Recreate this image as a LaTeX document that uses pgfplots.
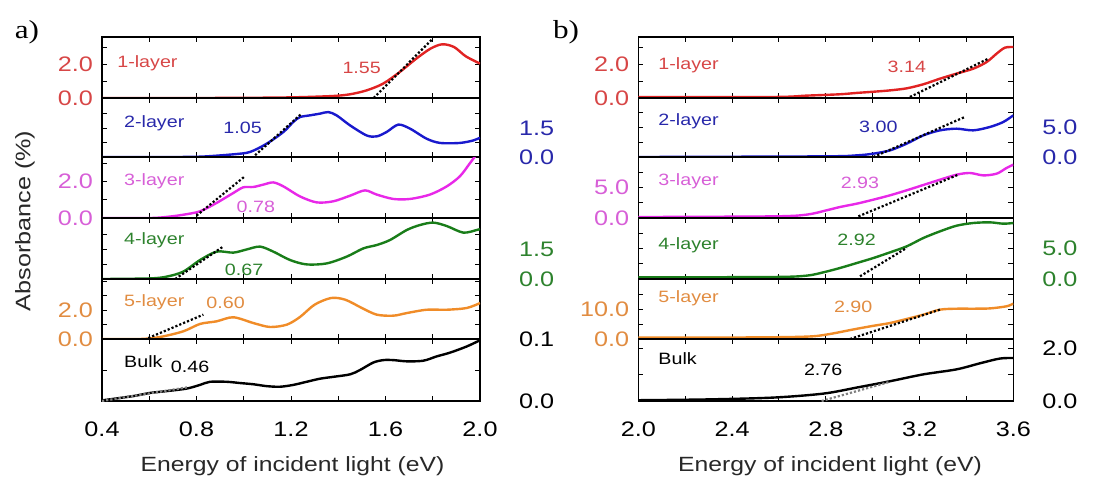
\documentclass[border=0pt]{standalone}
\usepackage{pgfplots}
\pgfplotsset{compat=1.18}
\usepackage{fontspec}
\setmainfont{Liberation Sans}[FakeStretch=1.2]
\newfontfamily\serifpanel{Liberation Serif}[FakeStretch=1.2]
\definecolor{cred}{RGB}{225,35,35}
\definecolor{lred}{RGB}{215,70,70}
\definecolor{cblue}{RGB}{25,25,205}
\definecolor{lblue}{RGB}{40,40,170}
\definecolor{cmag}{RGB}{232,40,232}
\definecolor{lmag}{RGB}{215,95,215}
\definecolor{cgreen}{RGB}{25,125,25}
\definecolor{lgreen}{RGB}{45,130,45}
\definecolor{corange}{RGB}{240,140,40}
\definecolor{lorange}{RGB}{225,140,65}
\definecolor{ctext}{RGB}{40,40,40}
\tikzset{
  lay/.style={font=\fontsize{8.2}{9}\selectfont, anchor=west, text=#1},
  val/.style={font=\fontsize{8.2}{9}\selectfont, text=#1},
  curve/.style={#1, line width=1.2pt, smooth, tension=0.5},
  tang/.style={black, densely dotted, line width=1.1pt},
}
\pgfplotsset{
  sub/.style={scale only axis, anchor=north west, ymin=0,
    xticklabels={}, axis line style={line width=0.6pt},
    major tick length=2.5pt, minor tick length=2.5pt,
    every tick/.style={black, line width=0.5pt},
    tick label style={font=\fontsize{10.5}{11}\selectfont},
    /pgf/number format/assume math mode=true,
    yticklabel shift={1pt}},
  pa/.style={sub, width=189pt, xmin=0.4, xmax=2.0,
    xtick={0.4,0.8,1.2,1.6,2.0}, minor xtick={0.6,1.0,1.4,1.8}},
  pb/.style={sub, width=187.5pt, xmin=2.0, xmax=3.6,
    xtick={2.0,2.4,2.8,3.2,3.6}, minor xtick={2.2,2.6,3.0,3.4}},
  rightlab/.style={yticklabel pos=right, yticklabel shift={#1}},
}
\begin{document}
\begin{tikzpicture}
\path[use as bounding box] (0,0) rectangle (547pt,-239.5pt);
% ---------------- panel a ----------------
\begin{axis}[pa, at={(51pt,-18.5pt)}, height=30.5pt, ymax=3.6,
  ytick={0,2}, minor ytick={1,3}, yticklabels={0.0,2.0}, yticklabel style={text=lred}]
\addplot[curve=cred] coordinates {(0.40,0) (0.80,0.0) (1.10,0.02) (1.24,0.05) (1.38,0.12) (1.45,0.22) (1.52,0.45) (1.59,0.85) (1.66,1.53) (1.73,2.32) (1.79,2.91) (1.84,3.17) (1.89,3.01) (1.94,2.46) (2.0,2.03)};
\addplot[tang] coordinates {(1.55,0.0) (1.80,3.5)};
\node[lay=lred] at (rel axis cs:0.022,0.57) {1-layer};
\node[val=lred] at (rel axis cs:0.687,0.49) {1.55};
\end{axis}
\begin{axis}[pa, at={(51pt,-49pt)}, height=29.5pt, ymax=3.06,
  ytick={0,1.5}, minor ytick={0.75,2.25}, yticklabels={0.0,1.5}, rightlab=16pt, yticklabel style={text=lblue}]
\addplot[curve=cblue] coordinates {(0.40,0) (0.67,0.0) (0.82,0.02) (0.956,0.14) (1.026,0.26) (1.097,0.69) (1.168,1.30) (1.21,1.82) (1.238,2.07) (1.28,2.16) (1.323,2.25) (1.358,2.33) (1.393,2.16) (1.45,1.64) (1.52,1.12) (1.563,1.07) (1.605,1.30) (1.654,1.68) (1.704,1.47) (1.774,0.95) (1.831,0.73) (1.915,0.73) (1.972,0.86) (2.0,1.0)};
\addplot[tang] coordinates {(1.048,0.09) (1.245,2.25)};
\node[lay=lblue] at (rel axis cs:0.04,0.58) {2-layer};
\node[val=lblue] at (rel axis cs:0.372,0.49) {1.05};
\end{axis}
\begin{axis}[pa, at={(51pt,-78.5pt)}, height=30.5pt, ymax=3.36,
  ytick={0,2}, minor ytick={1,3}, yticklabels={0.0,2.0}, yticklabel style={text=lmag}]
\addplot[curve=cmag] coordinates {(0.40,0) (0.603,0) (0.674,0.06) (0.744,0.18) (0.815,0.37) (0.885,0.83) (0.956,1.38) (0.998,1.69) (1.041,1.71) (1.083,1.84) (1.125,1.96) (1.168,1.74) (1.238,1.19) (1.309,0.86) (1.379,0.92) (1.45,1.23) (1.513,1.52) (1.563,1.29) (1.633,1.05) (1.704,1.05) (1.788,1.29) (1.859,1.74) (1.915,2.30) (1.958,3.03) (1.985,3.5)};
\addplot[tang] coordinates {(0.80,0.13) (1.005,2.30)};
\node[lay=lmag] at (rel axis cs:0.04,0.595) {3-layer};
\node[val=lmag] at (rel axis cs:0.407,0.19) {0.78};
\end{axis}
\begin{axis}[pa, at={(51pt,-109pt)}, height=30.5pt, ymax=3.05,
  ytick={0,1.5}, minor ytick={0.75,2.25}, yticklabels={0.0,1.5}, rightlab=16pt, yticklabel style={text=lgreen}]
\addplot[curve=cgreen] coordinates {(0.40,0) (0.603,0.03) (0.674,0.12) (0.744,0.37) (0.815,0.95) (0.886,1.37) (0.956,1.32) (1.013,1.48) (1.069,1.62) (1.125,1.37) (1.196,0.95) (1.266,0.73) (1.351,0.78) (1.436,1.12) (1.506,1.53) (1.563,1.70) (1.619,1.95) (1.69,2.45) (1.746,2.70) (1.802,2.82) (1.859,2.65) (1.929,2.32) (1.986,2.45) (2.0,2.5)};
\addplot[tang] coordinates {(0.71,0.0) (0.91,1.6)};
\node[lay=lgreen] at (rel axis cs:0.04,0.64) {4-layer};
\node[val=lgreen] at (rel axis cs:0.376,0.15) {0.67};
\end{axis}
\begin{axis}[pa, at={(51pt,-139.5pt)}, height=30pt, ymax=4.14,
  ytick={0,2}, minor ytick={1,3,4}, yticklabels={0.0,2.0}, yticklabel style={text=lorange}]
\addplot[curve=corange] coordinates {(0.40,0) (0.561,0) (0.646,0.14) (0.744,0.53) (0.815,1.04) (0.885,1.22) (0.956,1.50) (1.041,1.10) (1.111,0.83) (1.182,0.99) (1.238,1.52) (1.30,2.37) (1.37,2.83) (1.43,2.71) (1.50,2.14) (1.563,1.68) (1.633,1.61) (1.69,1.79) (1.774,2.02) (1.859,2.02) (1.944,2.14) (2.0,2.48)};
\addplot[tang] coordinates {(0.596,0.07) (0.829,1.68)};
\node[lay=lorange] at (rel axis cs:0.04,0.605) {5-layer};
\node[val=lorange] at (rel axis cs:0.327,0.605) {0.60};
\end{axis}
\begin{axis}[pa, at={(51pt,-169.5pt)}, height=31pt, ymax=0.1,
  ytick={0,0.1}, minor ytick={0.05}, yticklabels={0.0,0.1}, rightlab=16pt, yticklabel style={text=black},
  xticklabels={0.4,0.8,1.2,1.6,2.0}, xticklabel shift={7pt}]
\addplot[curve=black] coordinates {(0.40,0.001) (0.533,0.008) (0.603,0.013) (0.674,0.016) (0.758,0.020) (0.815,0.026) (0.857,0.031) (0.928,0.031) (0.984,0.029) (1.041,0.027) (1.097,0.024) (1.153,0.023) (1.21,0.026) (1.266,0.031) (1.323,0.036) (1.379,0.039) (1.45,0.043) (1.492,0.050) (1.548,0.062) (1.591,0.066) (1.633,0.066) (1.69,0.064) (1.76,0.065) (1.817,0.072) (1.873,0.078) (1.944,0.088) (2.0,0.098)};
\addplot[gray, densely dotted, line width=1.1pt] coordinates {(0.40,0.0) (0.76,0.022)};
\node[lay=black] at (rel axis cs:0.04,0.63) {Bulk};
\node[val=black] at (rel axis cs:0.233,0.55) {0.46};
\end{axis}
% ---------------- panel b ----------------
\begin{axis}[pb, at={(319.15pt,-18.5pt)}, height=30.5pt, ymax=3.6,
  ytick={0,2}, minor ytick={1,3}, yticklabels={0.0,2.0}, yticklabel style={text=lred}]
\addplot[curve=cred] coordinates {(2.0,0.06) (2.576,0.06) (2.718,0.14) (2.86,0.22) (2.932,0.30) (3.003,0.37) (3.074,0.45) (3.145,0.57) (3.216,0.81) (3.287,1.14) (3.358,1.44) (3.429,1.73) (3.486,2.12) (3.529,2.62) (3.564,2.97) (3.6,3.01)};
\addplot[tang] coordinates {(3.159,0.06) (3.493,2.32)};
\node[lay=lred] at (rel axis cs:0.035,0.54) {1-layer};
\node[val=lred] at (rel axis cs:0.716,0.51) {3.14};
\end{axis}
\begin{axis}[pb, at={(319.15pt,-49pt)}, height=29.5pt, ymax=10,
  ytick={0,5}, minor ytick={2.5,7.5}, yticklabels={0.0,5.0}, rightlab=11pt, yticklabel style={text=lblue}]
\addplot[curve=cblue] coordinates {(2.0,0) (2.789,0.11) (2.932,0.28) (3.003,0.57) (3.074,1.13) (3.145,2.26) (3.216,3.67) (3.287,4.52) (3.358,4.80) (3.429,4.52) (3.5,5.09) (3.557,5.93) (3.6,7.06)};
\addplot[tang] coordinates {(3.003,0.0) (3.394,6.8)};
\node[lay=lblue] at (rel axis cs:0.035,0.6) {2-layer};
\node[val=lblue] at (rel axis cs:0.64,0.51) {3.00};
\end{axis}
\begin{axis}[pb, at={(319.15pt,-78.5pt)}, height=30.5pt, ymax=10,
  ytick={0,5}, minor ytick={2.5,7.5}, yticklabels={0.0,5.0}, yticklabel style={text=lmag}]
\addplot[curve=cmag] coordinates {(2.0,0.16) (2.576,0.27) (2.718,0.55) (2.803,1.26) (2.86,1.80) (2.932,2.35) (3.003,3.01) (3.074,3.72) (3.145,4.54) (3.216,5.41) (3.287,6.28) (3.358,7.10) (3.415,7.38) (3.472,6.99) (3.529,7.27) (3.571,8.20) (3.6,8.74)};
\addplot[tang] coordinates {(2.939,0.27) (3.365,7.1)};
\node[lay=lmag] at (rel axis cs:0.035,0.595) {3-layer};
\node[val=lmag] at (rel axis cs:0.591,0.57) {2.93};
\end{axis}
\begin{axis}[pb, at={(319.15pt,-109pt)}, height=30.5pt, ymax=10,
  ytick={0,5}, minor ytick={2.5,7.5}, yticklabels={0.0,5.0}, rightlab=11pt, yticklabel style={text=lgreen}]
\addplot[curve=cgreen] coordinates {(2.0,0.27) (2.576,0.33) (2.718,0.55) (2.789,1.09) (2.86,1.80) (2.932,2.62) (3.003,3.44) (3.074,4.37) (3.145,5.35) (3.216,6.72) (3.287,7.81) (3.358,8.74) (3.429,9.18) (3.5,9.29) (3.557,9.07) (3.6,9.18)};
\addplot[tang] coordinates {(2.946,0.44) (3.145,5.1)};
\node[lay=lgreen] at (rel axis cs:0.035,0.55) {4-layer};
\node[val=lgreen] at (rel axis cs:0.582,0.64) {2.92};
\end{axis}
\begin{axis}[pb, at={(319.15pt,-139.5pt)}, height=30pt, ymax=20,
  ytick={0,10}, minor ytick={5,15}, yticklabels={0.0,10.0}, yticklabel style={text=lorange}]
\addplot[curve=corange] coordinates {(2.0,0.44) (2.4,0.5) (2.6,0.6) (2.7,0.75) (2.76,1.0) (2.82,1.7) (2.86,2.3) (2.932,3.4) (3.003,4.4) (3.074,5.33) (3.145,6.67) (3.216,8.11) (3.287,9.78) (3.358,10.1) (3.429,10.1) (3.5,10.2) (3.571,10.9) (3.6,11.8)};
\addplot[tang] coordinates {(2.903,0.0) (3.287,9.8)};
\node[lay=lorange] at (rel axis cs:0.035,0.68) {5-layer};
\node[val=lorange] at (rel axis cs:0.573,0.53) {2.90};
\end{axis}
\begin{axis}[pb, at={(319.15pt,-169.5pt)}, height=31pt, ymax=2.35,
  ytick={0,2}, minor ytick={1}, yticklabels={0.0,2.0}, rightlab=11pt, yticklabel style={text=black},
  xticklabels={2.0,2.4,2.8,3.2,3.6}, xticklabel shift={7pt}]
\addplot[curve=black] coordinates {(2.0,0.03) (2.292,0.06) (2.576,0.13) (2.789,0.28) (2.932,0.51) (3.074,0.75) (3.216,1.01) (3.358,1.20) (3.458,1.43) (3.543,1.61) (3.6,1.63)};
\addplot[gray, densely dotted, line width=1.1pt] coordinates {(2.782,0.0) (3.074,0.73)};
\node[lay=black] at (rel axis cs:0.035,0.69) {Bulk};
\node[val=black] at (rel axis cs:0.493,0.5) {2.76};
\end{axis}
% ---------------- labels ----------------
\node[rotate=90, text=ctext, font=\fontsize{10.5}{12}\selectfont] at (12.5pt,-110.5pt) {Absorbance (\%)};
\node[text=ctext, font=\fontsize{10.3}{12}\selectfont] at (146.25pt,-233pt) {Energy of incident light (eV)};
\node[text=ctext, font=\fontsize{10.3}{12}\selectfont] at (415pt,-233pt) {Energy of incident light (eV)};
\node[font=\serifpanel\fontsize{13}{14}\selectfont] at (13.5pt,-16pt) {a)};
\node[font=\serifpanel\fontsize{13}{14}\selectfont] at (283pt,-16pt) {b)};
\end{tikzpicture}
\end{document}
